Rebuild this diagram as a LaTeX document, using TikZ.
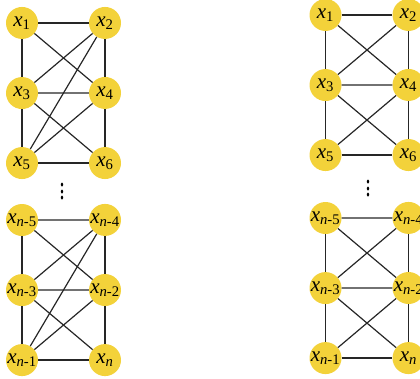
\documentclass[tikz,border=0pt]{standalone}
\usepackage{fontspec}
\setmainfont{Liberation Serif}
\usetikzlibrary{matrix}
\definecolor{vtxfill}{RGB}{243,210,58}
\newcommand{\xv}[1]{\makebox[0pt]{\textit{x}\textsubscript{#1}}}
\newcommand{\nm}[1]{\textit{n}-#1}
\newcommand{\tallvdots}{\scalebox{1}[1.6]{$\vdots$}}
\tikzset{
  vtx/.style={circle,fill=vtxfill,minimum size=32pt,inner sep=0pt,
    font=\fontsize{21}{24}\selectfont},
  link/.style={line width=1.2pt,color=black!85},
  gap/.style={font=\fontsize{20}{24}\selectfont}
}

\begin{document}
\begin{tikzpicture}[x=1pt,y=-1pt]
\useasboundingbox (0,0) rectangle (420,378);
% left graph
\matrix (lt) [matrix of nodes, nodes={vtx}, row sep=38pt, column sep=51pt]
  at (63.5,93)
{
  \xv{1} & \xv{2} \\
  \xv{3} & \xv{4} \\
  \xv{5} & \xv{6} \\};
\matrix (lb) [matrix of nodes, nodes={vtx}, row sep=38pt, column sep=51pt]
  at (63.5,290)
{
  \xv{\nm5} & \xv{\nm4} \\
  \xv{\nm3} & \xv{\nm2} \\
  \xv{\nm1} & \xv{\textit{n}} \\};
% right graph
\matrix (rt) [matrix of nodes, nodes={vtx}, row sep=38pt, column sep=51pt]
  at (367,85)
{
  \xv{1} & \xv{2} \\
  \xv{3} & \xv{4} \\
  \xv{5} & \xv{6} \\};
\matrix (rb) [matrix of nodes, nodes={vtx}, row sep=38pt, column sep=51pt]
  at (367,288)
{
  \xv{\nm5} & \xv{\nm4} \\
  \xv{\nm3} & \xv{\nm2} \\
  \xv{\nm1} & \xv{\textit{n}} \\};
\node[gap] (ldots) at (62,187) {\tallvdots};
\node[gap] (rdots) at (368,184) {\tallvdots};
\foreach \g in {lt,lb,rt,rb}
  \path[link]
  (\g-1-1) edge (\g-1-2) edge (\g-2-1) edge (\g-2-2)
  (\g-1-2) edge (\g-2-1) edge (\g-2-2)
  (\g-2-1) edge (\g-2-2) edge (\g-3-1) edge (\g-3-2)
  (\g-2-2) edge (\g-3-1) edge (\g-3-2)
  (\g-3-1) edge (\g-3-2);
\foreach \g in {lt,lb}
  \path[link] (\g-1-2) edge (\g-3-1);
\end{tikzpicture}
\end{document}
